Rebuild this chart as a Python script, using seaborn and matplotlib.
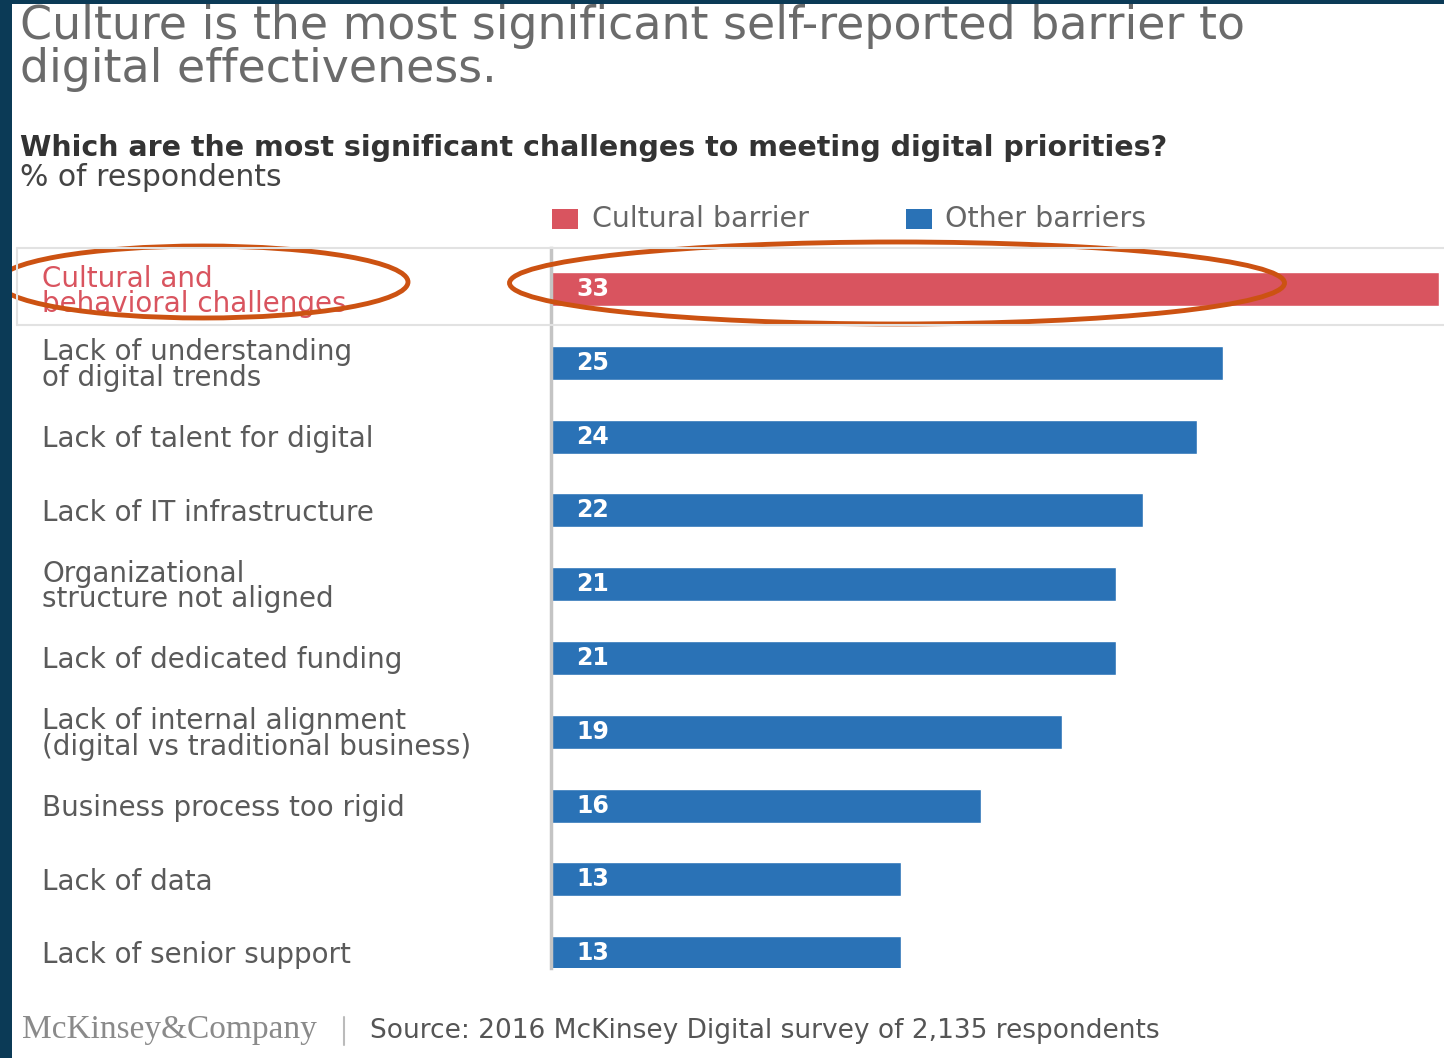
import matplotlib
matplotlib.use("Agg")
import matplotlib.pyplot as plt
import matplotlib.transforms as mtransforms
from matplotlib.patches import Rectangle, Ellipse
from matplotlib.lines import Line2D
import seaborn as sns
import pandas as pd

# ---- data ----
categories = [
    "Cultural and\nbehavioral challenges",
    "Lack of understanding\nof digital trends",
    "Lack of talent for digital",
    "Lack of IT infrastructure",
    "Organizational\nstructure not aligned",
    "Lack of dedicated funding",
    "Lack of internal alignment\n(digital vs traditional business)",
    "Business process too rigid",
    "Lack of data",
    "Lack of senior support",
]
values = [33, 25, 24, 22, 21, 21, 19, 16, 13, 13]
groups = ["Cultural barrier"] + ["Other barriers"] * 9
legend_labels = ["Cultural barrier", "Other barriers"]

title = "Culture is the most significant self-reported barrier to\ndigital effectiveness."
subtitle = "Which are the most significant challenges to meeting digital priorities?"
unit = "% of respondents"
brand = "McKinsey&Company"
source = "Source: 2016 McKinsey Digital survey of 2,135 respondents"

RED = "#d9545f"
BLUE = "#2a72b6"
NAVY = "#0b3a56"
palette = {"Cultural barrier": RED, "Other barriers": BLUE}

df = pd.DataFrame({"category": categories, "value": values, "group": groups})

sns.set_theme(style="white")
plt.rcParams["font.family"] = ["DejaVu Sans"]

W, H = 1444, 1058
fig = plt.figure(figsize=(W / 100, H / 100), dpi=100)
fig.patch.set_facecolor("white")

def fx(px):
    return px / W

def fy(py):
    return 1 - py / H

ax = fig.add_axes([fx(551), fy(968), 1 - fx(551), fy(248) - fy(968)])
sns.barplot(data=df, y="category", x="value", hue="group", palette=palette,
            dodge=False, legend=False, width=0.46, ax=ax, saturation=1)
ax.set_xlim(0, 33.2)
ax.set_ylim(9.2, -0.556)
ax.set_xlabel("")
ax.set_ylabel("")
ax.set_xticks([])
ax.set_yticks([])
for s in ["top", "right", "bottom"]:
    ax.spines[s].set_visible(False)
ax.spines["left"].set_color("#c4c4c4")
ax.spines["left"].set_linewidth(2.5)
ax.patch.set_alpha(0)

# value labels
for i, v in enumerate(values):
    ax.text(0.95, i, str(v), color="white", fontsize=17, fontweight="bold",
            va="center", ha="left")

# category labels
trans = mtransforms.blended_transform_factory(fig.transFigure, ax.transData)
for i, c in enumerate(categories):
    ax.text(fx(42), i + 0.03, c, transform=trans, ha="left", va="center",
            fontsize=20, color=RED if i == 0 else "#5a5a5a", linespacing=0.88)

hl = fig.transFigure
# highlight box around first row
fig.add_artist(Line2D([fx(17), 1], [fy(248), fy(248)], color="#e2e2e2", lw=1.5, transform=hl))
fig.add_artist(Line2D([fx(17), 1], [fy(325), fy(325)], color="#e2e2e2", lw=1.5, transform=hl))
fig.add_artist(Line2D([fx(17), fx(17)], [fy(248), fy(325)], color="#e2e2e2", lw=1.5, transform=hl))

# annotation ellipses
fig.add_artist(Ellipse((fx(203), fy(282)), fx(410), 72 / H, fill=False,
                       edgecolor="#cc5212", lw=3.5, transform=hl))
fig.add_artist(Ellipse((fx(897), fy(283)), fx(775), 82 / H, fill=False,
                       edgecolor="#cc5212", lw=3.5, transform=hl))

# titles
fig.text(fx(20), fy(4), title, ha="left", va="top", fontsize=33, color="#6b6b6b",
         linespacing=0.95)
fig.text(fx(20), fy(148), subtitle, ha="left", va="center", fontsize=20.5,
         fontweight="bold", color="#333333")
fig.text(fx(20), fy(178), unit, ha="left", va="center", fontsize=21.5, color="#444444")

# legend
leg_sq_x = [552, 906]
leg_tx_x = [592, 945]
for lab, sx, tx in zip(legend_labels, leg_sq_x, leg_tx_x):
    fig.add_artist(Rectangle((fx(sx), fy(229)), fx(26), 20 / H,
                             facecolor=palette[lab], edgecolor="none", transform=hl))
    fig.text(fx(tx), fy(219), lab, ha="left", va="center", fontsize=20.5,
             color="#666666")

# footer
fig.text(fx(22), fy(1030), brand, ha="left", va="center", fontsize=24,
         family="Liberation Serif", color="#8a8a8a")
fig.add_artist(Line2D([fx(344), fx(344)], [fy(1017), fy(1045)], color="#bbbbbb",
                      lw=1.5, transform=hl))
fig.text(fx(370), fy(1031), source, ha="left", va="center", fontsize=19,
         color="#555555")

# navy frame
fig.add_artist(Rectangle((0, 0), fx(12), 1, facecolor=NAVY, edgecolor="none", transform=hl))
fig.add_artist(Rectangle((0, fy(4)), 1, 4 / H, facecolor=NAVY, edgecolor="none", transform=hl))

fig.savefig("out.png", dpi=100)
